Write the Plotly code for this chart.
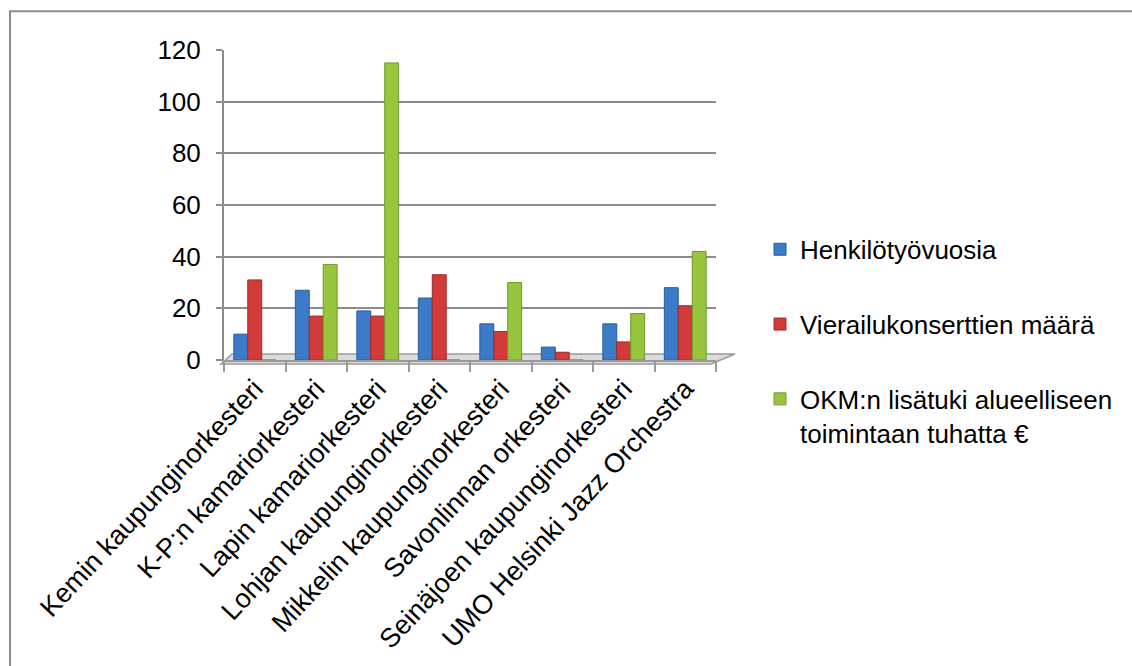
import plotly.graph_objects as go

categories = [
    "Kemin kaupunginorkesteri",
    "K-P:n kamariorkesteri",
    "Lapin kamariorkesteri",
    "Lohjan kaupunginorkesteri",
    "Mikkelin kaupunginorkesteri",
    "Savonlinnan orkesteri",
    "Seinäjoen kaupunginorkesteri",
    "UMO Helsinki Jazz Orchestra",
]
henkilotyovuosia = [10, 27, 19, 24, 14, 5, 14, 28]
vierailukonsertit = [31, 17, 17, 33, 11, 3, 7, 21]
okm_lisatuki = [0, 37, 115, 0, 30, 0, 18, 42]

series_names = [
    "Henkilötyövuosia",
    "Vierailukonserttien määrä",
    "OKM:n lisätuki alueelliseen<br>toimintaan tuhatta €",
]
y_ticks = [0, 20, 40, 60, 80, 100, 120]

colors = ["#3b7bc8", "#d23b39", "#97c53d"]
edges = ["#2a5d9e", "#a02a28", "#6f9a2a"]

FONT = "Liberation Sans, Arial, Helvetica, sans-serif"

fig = go.Figure()
for name, vals, c, e, g in zip(series_names,
                               [henkilotyovuosia, vierailukonsertit, okm_lisatuki],
                               colors, edges, ["a", "b", "c"]):
    fig.add_trace(go.Bar(
        x=categories, y=vals, name=name, legendgroup=g,
        marker=dict(color=c, line=dict(color=e, width=1)),
    ))

L, R, T, B = 224, 416, 50, 304
W, H = 1132, 666
pw, ph = W - L - R, H - T - B

def px(x):
    return (x - L) / pw

def py(y):
    return (H - B - y) / ph

shapes = [
    # outer chart border (only top/left visible)
    dict(type="rect", xref="paper", yref="paper",
         x0=px(10), x1=px(1200), y0=py(720), y1=py(11),
         line=dict(color="#8c8c8c", width=2), fillcolor="rgba(0,0,0,0)", layer="below"),
    # floor
    dict(type="path", xref="paper", yref="paper",
         path=f"M {px(221)},{py(366)} L {px(711)},{py(366)} L {px(735)},{py(356)} L {px(232)},{py(356)} Z",
         line=dict(color="#9a9a9a", width=1.5), fillcolor="#dcdcdc", layer="below"),
]

fig.update_layout(
    width=W, height=H,
    margin=dict(l=L, r=R, t=T, b=B),
    paper_bgcolor="white", plot_bgcolor="white",
    font=dict(family=FONT, color="#000000", size=22),
    barmode="group", bargap=0.32, bargroupgap=0,
    showlegend=True,
    legend=dict(
        x=px(760), xanchor="left", y=py(227), yanchor="top",
        font=dict(size=26, family=FONT), valign="top",
        tracegroupgap=38, traceorder="grouped",
        bgcolor="rgba(0,0,0,0)", itemwidth=30,
    ),
    shapes=shapes,
    xaxis=dict(
        showline=True, linecolor="#9a9a9a", linewidth=2,
        ticks="outside", tickson="boundaries", ticklen=10, tickcolor="#9a9a9a", tickwidth=2,
        tickangle=-47, tickfont=dict(size=27, family=FONT), showgrid=False,
    ),
    yaxis=dict(
        range=[0, 120], tickvals=y_ticks, ticktext=[str(v) for v in y_ticks],
        showline=True, linecolor="#8c8c8c", linewidth=2,
        ticks="outside", ticklen=6, tickcolor="#8c8c8c", tickwidth=2,
        showgrid=True, gridcolor="#8c8c8c", gridwidth=2,
        zeroline=False, tickfont=dict(size=26, family=FONT), ticklabelstandoff=10,
    ),
)

fig.write_html("out.html")
